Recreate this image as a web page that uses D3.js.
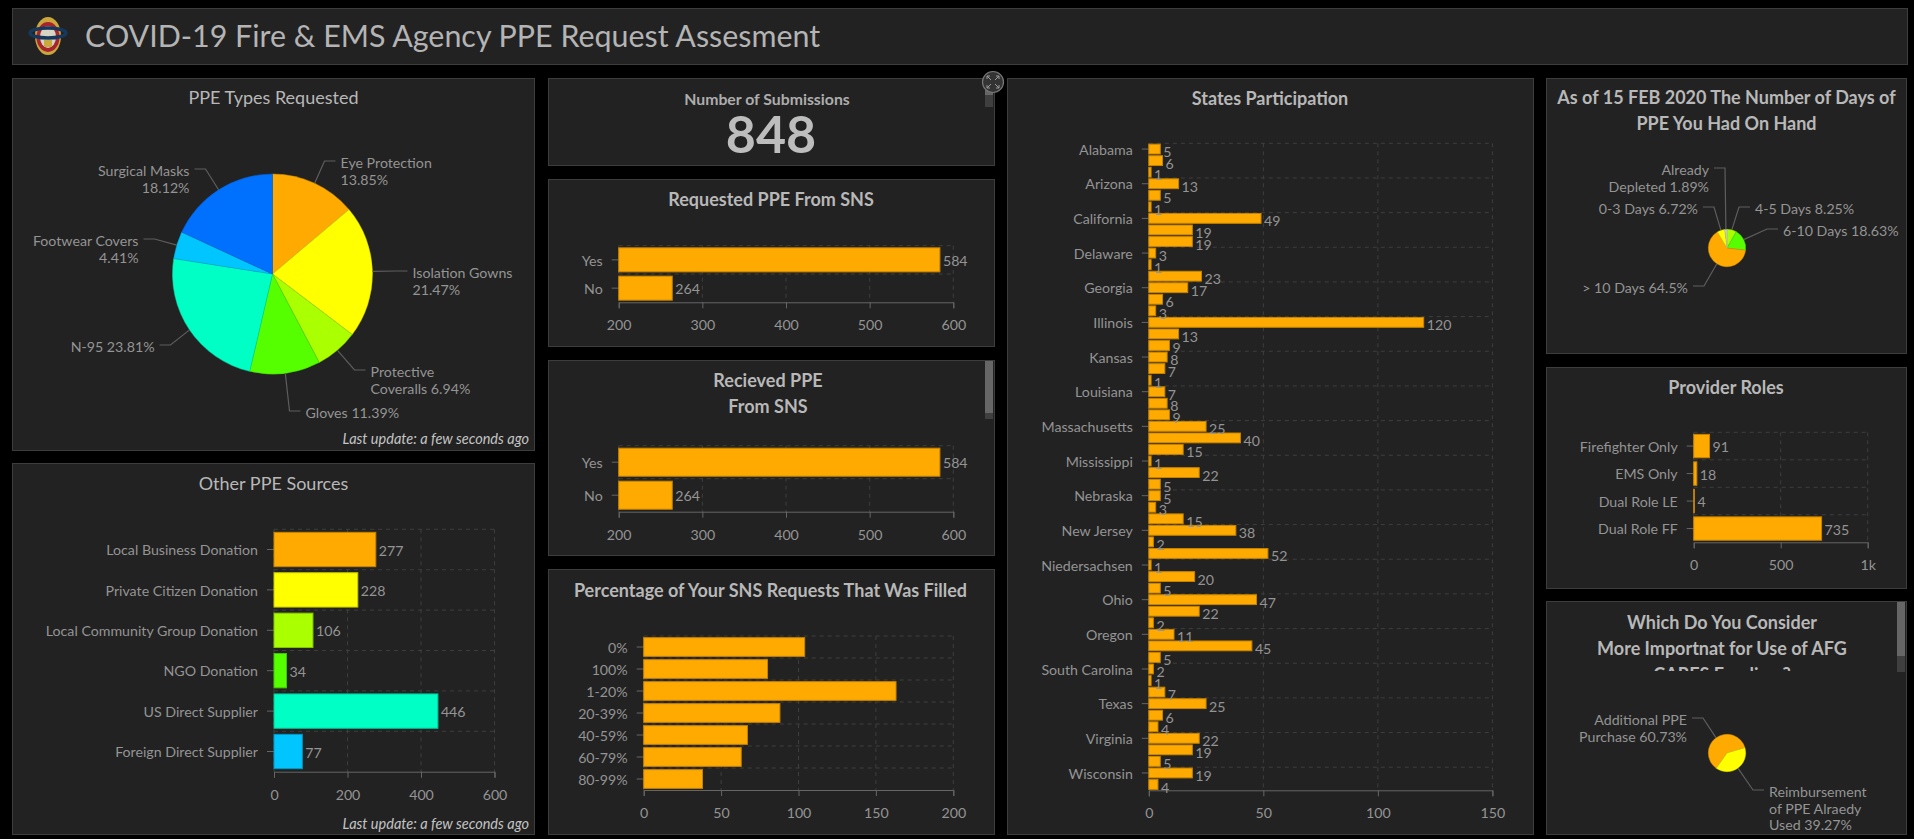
<!DOCTYPE html>
<html>
<head>
<meta charset="utf-8">
<title>COVID-19 Fire & EMS Agency PPE Request Assesment</title>
<script src="https://cdn.jsdelivr.net/npm/d3@7"></script>
<style>
  html, body { margin: 0; padding: 0; background: #000; overflow: hidden; }
  svg { display: block; font-family: Lato, "Open Sans", sans-serif; }
</style>
</head>
<body>
<div id="dash"></div>
<script>
// data
const orange = "#ffaa00", yellow = "#ffff00", lime = "#aaff00", green = "#55ff00",
      teal = "#00ffc5", sky = "#00c5ff", blue = "#0070ff", pale = "#d2d2d2";

const submissions = 848;

const typeNames = ["Eye Protection|", "Isolation Gowns|", "Protective|Coveralls ", "Gloves ", "N-95 ", "Footwear Covers|", "Surgical Masks|"];
const typeValues = [13.85, 21.47, 6.94, 11.39, 23.81, 4.41, 18.12];
const typeColors = [orange, yellow, lime, green, teal, sky, blue];

const sourceNames = ["Local Business Donation", "Private Citizen Donation", "Local Community Group Donation", "NGO Donation", "US Direct Supplier", "Foreign Direct Supplier"];
const sourceValues = [277, 228, 106, 34, 446, 77];
const sourceColors = [orange, yellow, lime, green, teal, sky];

const yesNo = ["Yes", "No"];
const requestedValues = [584, 264];
const recievedValues = [584, 264];

const filledNames = ["0%", "100%", "1-20%", "20-39%", "40-59%", "60-79%", "80-99%"];
const filledValues = [104, 80, 163, 88, 67, 63, 38];

// only every third state is labelled on the axis
const stateLabels = ["Alabama", "Arizona", "California", "Delaware", "Georgia", "Illinois", "Kansas", "Louisiana", "Massachusetts",
  "Mississippi", "Nebraska", "New Jersey", "Niedersachsen", "Ohio", "Oregon", "South Carolina", "Texas", "Virginia", "Wisconsin"];
const stateValues = [5, 6, 1, 13, 5, 1, 49, 19, 19, 3, 1, 23, 17, 6, 3, 120, 13, 9, 8, 7, 1, 7, 8, 9, 25, 40, 15, 1, 22, 5, 5, 3, 15, 38, 2, 52,
  1, 20, 5, 47, 22, 2, 11, 45, 5, 2, 1, 7, 25, 6, 4, 22, 19, 5, 19, 4];

const dayNames = ["4-5 Days ", "6-10 Days ", "> 10 Days ", "0-3 Days ", "Already|Depleted "];
const dayValues = [8.25, 18.63, 64.5, 6.72, 1.89];
const dayColors = [lime, green, orange, yellow, pale];

const roleNames = ["Firefighter Only", "EMS Only", "Dual Role LE", "Dual Role FF"];
const roleValues = [91, 18, 4, 735];

const useNames = ["Additional PPE|Purchase ", "Reimbursement|of PPE Alraedy|Used "];
const useValues = [60.73, 39.27];
const useColors = [orange, yellow];

const svg = d3.select("#dash").append("svg")
    .attr("width", 1914)
    .attr("height", 839);

svg.append("rect").attr("width", 1914).attr("height", 839).attr("fill", "#000");

function panel(x0, y0, x1, y1) {
    svg.append("rect")
        .attr("x", x0 + 0.5).attr("y", y0 + 0.5)
        .attr("width", x1 - x0).attr("height", y1 - y0)
        .attr("fill", "#222222")
        .attr("stroke", "#3d3d3d");
}

function label(parent, x, y, lines, opts) {
    const o = Object.assign({ size: 14.2, fill: "#949494", anchor: "start", weight: 400, lh: 16.5 }, opts);
    const t = parent.append("text")
        .attr("text-anchor", o.anchor)
        .attr("font-size", o.size)
        .attr("font-weight", o.weight)
        .attr("font-style", o.style || "normal")
        .attr("fill", o.fill);
    [].concat(lines).forEach((line, i) => {
        t.append("tspan").attr("x", x).attr("y", y + i * o.lh).text(line);
    });
    return t;
}

function heading(x, y, lines, opts) {
    return label(svg, x, y, lines, Object.assign({ size: 18, fill: "#b8b8b8", anchor: "middle", weight: 700, lh: 26 }, opts));
}

function scrollbar(x, y, thumb, track) {
    svg.append("rect").attr("x", x).attr("y", y).attr("width", 8).attr("height", track).attr("fill", "#3f3f3f");
    svg.append("rect").attr("x", x).attr("y", y).attr("width", 8).attr("height", thumb).attr("fill", "#666");
}

function barChart(c) {
    const g = svg.append("g");
    const x = d3.scaleLinear().domain(c.domain).range([c.left, c.right]);
    const ids = d3.range(c.values.length);
    const y = d3.scaleBand().domain(ids).range([c.top, c.bottom]).paddingInner(0.15).paddingOuter(0.075);
    const every = c.every || 1;

    // dashed grid sits under the bars
    const grid = g.append("g")
        .attr("fill", "none")
        .attr("stroke", "#3e3e3e")
        .attr("stroke-dasharray", "4,4");
    c.ticks.forEach(t => {
        grid.append("line").attr("x1", x(t)).attr("x2", x(t)).attr("y1", c.top).attr("y2", c.bottom);
    });
    ids.filter(i => i % every === 0).forEach(i => {
        const yy = c.top + i * y.step();
        grid.append("line").attr("x1", c.left).attr("x2", c.right).attr("y1", yy).attr("y2", yy);
    });

    const axisX = g.append("g")
        .attr("transform", `translate(0, ${c.bottom})`)
        .call(d3.axisBottom(x).tickValues(c.ticks).tickFormat(c.format || d3.format("d")).tickSize(6).tickPadding(12));
    const axisY = g.append("g")
        .attr("transform", `translate(${c.left}, 0)`)
        .call(d3.axisLeft(y).tickValues(ids.filter(i => i % every === 0)).tickFormat(i => c.names[i / every]).tickSize(7).tickPadding(9));
    axisY.select(".domain").remove();
    axisY.selectAll("text").attr("dy", "0.4em");
    [axisX, axisY].forEach(a => {
        a.attr("font-family", null).attr("font-size", 14.2);
        a.selectAll("text").attr("fill", "#949494");
        a.selectAll("line,.domain").attr("stroke", "#666");
    });

    g.selectAll(".bar")
        .data(ids)
        .enter()
        .append("rect")
        .attr("class", "bar")
        .attr("x", x(c.domain[0]))
        .attr("y", i => y(i))
        .attr("width", i => x(c.values[i]) - x(c.domain[0]))
        .attr("height", y.bandwidth())
        .attr("fill", i => c.colors ? c.colors[i] : orange)
        .attr("stroke", i => d3.color(c.colors ? c.colors[i] : orange).darker(0.7));

    if (c.labels) {
        g.selectAll(".val")
            .data(ids)
            .enter()
            .append("text")
            .attr("class", "val")
            .attr("x", i => x(c.values[i]) + 3)
            .attr("y", i => y(i) + y.bandwidth() / 2 + c.labelDy)
            .attr("font-size", 14.2)
            .attr("fill", "#949494")
            .text(i => c.values[i]);
    }
}

function pieChart(c) {
    const g = svg.append("g");
    const rot = c.rotate || 0;
    const slices = d3.pie().sort(null).startAngle(rot).endAngle(rot + 2 * Math.PI)(c.values);
    const arc = d3.arc().innerRadius(0).outerRadius(c.r);
    const rim = d3.arc().innerRadius(c.r).outerRadius(c.r);

    g.append("g")
        .attr("transform", `translate(${c.cx}, ${c.cy})`)
        .selectAll("path")
        .data(slices)
        .enter()
        .append("path")
        .attr("d", arc)
        .attr("fill", (d, i) => c.colors[i])
        .attr("stroke", (d, i) => d3.color(c.colors[i]).darker(0.5))
        .attr("stroke-width", 0.5);

    slices.forEach((d, i) => {
        const [sx, sy] = rim.centroid(d);
        const [ex, ey, dir] = c.leaders[i];
        const path = d3.path();
        path.moveTo(c.cx + sx, c.cy + sy);
        path.lineTo(c.cx + ex, c.cy + ey);
        path.lineTo(c.cx + ex + dir * 11, c.cy + ey);
        g.append("path").attr("d", path.toString()).attr("fill", "none").attr("stroke", "#5e5e5e").attr("stroke-width", 1.2);
        label(g, c.cx + ex + dir * 16, c.cy + ey + 7, (c.names[i] + c.values[i] + "%").split("|"), { anchor: dir > 0 ? "start" : "end" });
    });
}

// header
panel(12, 8, 1907, 64);
const logo = svg.append("g").attr("transform", "translate(48, 36)");
logo.append("ellipse").attr("rx", 13).attr("ry", 19).attr("fill", "#caa63c");
logo.append("ellipse").attr("rx", 11.5).attr("ry", 15).attr("cy", 1).attr("fill", "#a8242f");
logo.append("ellipse").attr("rx", 8).attr("ry", 11).attr("cy", 1).attr("fill", "#d8d4c4");
logo.append("ellipse").attr("rx", 18).attr("ry", 5).attr("cy", -3).attr("fill", "none").attr("stroke", "#16385c").attr("stroke-width", 3.5);
logo.append("rect").attr("x", -4).attr("y", 4).attr("width", 8).attr("height", 7).attr("fill", "#c8a93e");
label(svg, 85, 47, "COVID-19 Fire & EMS Agency PPE Request Assesment", { size: 30.4, fill: "#b4b4b4" });

// left column
panel(12, 78, 534, 450);
heading(273.5, 104, "PPE Types Requested", { weight: 400 });
pieChart({
    cx: 272.5, cy: 274, r: 100,
    values: typeValues, names: typeNames, colors: typeColors,
    leaders: [[52, -113, 1], [124, -3, 1], [82, 96, 1], [17, 137, 1], [-102, 71, -1], [-118, -35, -1], [-67, -105, -1]]
});
label(svg, 529, 444, "Last update: a few seconds ago", { size: 14.5, fill: "#c4c4c4", anchor: "end", style: "italic" });

panel(12, 463, 534, 834);
heading(273.5, 490, "Other PPE Sources", { weight: 400 });
barChart({
    left: 274, right: 494.5, top: 529.3, bottom: 771.7,
    domain: [0, 600], ticks: [0, 200, 400, 600],
    names: sourceNames, values: sourceValues, colors: sourceColors,
    labels: true, labelDy: 6
});
label(svg, 529, 829, "Last update: a few seconds ago", { size: 14.5, fill: "#c4c4c4", anchor: "end", style: "italic" });

// middle column
panel(548, 78, 994, 165);
heading(767, 104.5, "Number of Submissions", { size: 15.8, fill: "#adadad" });
heading(771, 152.5, submissions, { size: 52, fill: "#bdbdbd" });
scrollbar(985, 90, 5, 17);

panel(548, 179, 994, 346);
heading(771, 206, "Requested PPE From SNS");
barChart({
    left: 618.7, right: 953.3, top: 245.7, bottom: 302.3,
    domain: [200, 600], ticks: [200, 300, 400, 500, 600],
    names: yesNo, values: requestedValues,
    labels: true, labelDy: 6
});

panel(548, 360, 994, 555);
heading(768, 387, ["Recieved PPE", "From SNS"]);
barChart({
    left: 618.7, right: 953.3, top: 445.7, bottom: 511.7,
    domain: [200, 600], ticks: [200, 300, 400, 500, 600],
    names: yesNo, values: recievedValues,
    labels: true, labelDy: 6
});
scrollbar(985, 361, 52, 58);

panel(548, 569, 994, 834);
heading(770.5, 596.5, "Percentage of Your SNS Requests That Was Filled");
barChart({
    left: 643.7, right: 953.3, top: 636, bottom: 790,
    domain: [0, 200], ticks: [0, 50, 100, 150, 200],
    names: filledNames, values: filledValues
});

// states
panel(1007, 78, 1533, 834);
heading(1270, 105, "States Participation");
barChart({
    left: 1148.8, right: 1492.4, top: 143.3, bottom: 790.3,
    domain: [0, 150], ticks: [0, 50, 100, 150], every: 3,
    names: stateLabels, values: stateValues,
    labels: true, labelDy: 8
});

// right column
panel(1546, 78, 1906, 353);
heading(1726.5, 104, ["As of 15 FEB 2020 The Number of Days of", "PPE You Had On Hand"]);
pieChart({
    cx: 1727, cy: 248, r: 18.7,
    values: dayValues, names: dayNames, colors: dayColors,
    leaders: [[12, -41, 1], [40, -19, 1], [-23, 38, -1], [-13, -41, -1], [-2, -80, -1]]
});

panel(1546, 367, 1906, 588);
heading(1726, 394, "Provider Roles");
barChart({
    left: 1693.7, right: 1867.7, top: 432.3, bottom: 542.3,
    domain: [0, 1000], ticks: [0, 500, 1000], format: d3.format(".0s"),
    names: roleNames, values: roleValues,
    labels: true, labelDy: 6
});

panel(1546, 601, 1906, 834);
svg.append("clipPath").attr("id", "title-clip")
    .append("rect").attr("x", 1546).attr("y", 601).attr("width", 360).attr("height", 70);
heading(1722, 628.5, ["Which Do You Consider", "More Importnat for Use of AFG", "CARES Funding ?"]).attr("clip-path", "url(#title-clip)");
scrollbar(1897, 602, 54, 70);
pieChart({
    cx: 1727, cy: 753, r: 18.7, rotate: 215 * Math.PI / 180,
    values: useValues, names: useNames, colors: useColors,
    leaders: [[-24, -35, -1], [26, 37, 1]]
});

// expand button over the number panel
const expand = svg.append("g").attr("transform", "translate(993, 82)");
expand.append("circle").attr("r", 10.5).attr("fill", "#333").attr("stroke", "#777").attr("stroke-width", 1.2);
[[-1, -1], [1, -1], [-1, 1], [1, 1]].forEach(([a, b]) => {
    expand.append("path")
        .attr("d", `M${a * 2},${b * 2}L${a * 6},${b * 6}M${a * 3},${b * 6}H${a * 6}V${b * 3}`)
        .attr("fill", "none")
        .attr("stroke", "#9a9a9a");
});
</script>
</body>
</html>
